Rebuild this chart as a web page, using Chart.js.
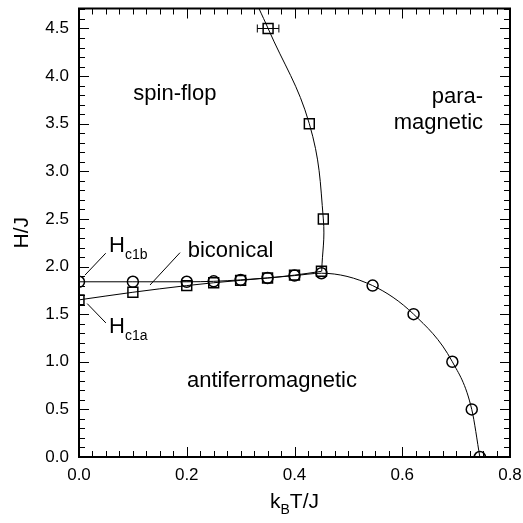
<!DOCTYPE html>
<html><head><meta charset="utf-8">
<script src="https://cdn.jsdelivr.net/npm/chart.js@4/dist/chart.umd.min.js"></script>
<style>html,body{margin:0;padding:0;background:#fff}#wrap{width:523px;height:523px;position:relative}</style>
</head><body><div id="wrap"><canvas id="c"></canvas></div>
<script>
// ---- data ----
const circleT = [0, 0.1, 0.2, 0.25, 0.3, 0.35, 0.4, 0.45, 0.545, 0.621, 0.693, 0.729, 0.744];
const circleH = [1.84, 1.84, 1.84, 1.845, 1.86, 1.88, 1.905, 1.93, 1.80, 1.50, 1.00, 0.50, 0.0];
const squareT = [0, 0.1, 0.2, 0.25, 0.3, 0.35, 0.4, 0.45, 0.4535, 0.4275, 0.351];
const squareH = [1.65, 1.73, 1.80, 1.83, 1.855, 1.88, 1.91, 1.95, 2.50, 3.50, 4.50];
const squareTErr = [0, 0, 0, 0, 0, 0, 0, 0, 0, 0, 0.02];
// spin-flop boundary curve (junction -> top edge)
const flopT = [0.4505, 0.4535, 0.4275, 0.351, 0.334];
const flopH = [1.95, 2.50, 3.50, 4.50, 4.71];
// lower (Hc1a) branch curve
const lowT = [0, 0.1, 0.2, 0.25, 0.3, 0.35, 0.4, 0.45];
const lowH = [1.65, 1.73, 1.80, 1.83, 1.855, 1.88, 1.91, 1.95];
const xTickLabels = ['0.0', '0.2', '0.4', '0.6', '0.8'];
const yTickLabels = ['0.0', '0.5', '1.0', '1.5', '2.0', '2.5', '3.0', '3.5', '4.0', '4.5'];
const regionLabels = ['spin-flop', 'para-', 'magnetic', 'biconical', 'antiferromagnetic'];

// ---- annotation layout (data coordinates) ----
const notes = [
  {text: regionLabels[0], t: 0.178, h: 3.75, align: 'center'},
  {text: regionLabels[1], t: 0.750, h: 3.72, align: 'right'},
  {text: regionLabels[2], t: 0.750, h: 3.44, align: 'right'},
  {text: regionLabels[3], t: 0.2018, h: 2.104, align: 'left'},
  {text: regionLabels[4], t: 0.2005, h: 0.732, align: 'left'}
];
const hLabels = [
  {main: 'H', sub: 'c1b', t: 0.0557, h: 2.149},
  {main: 'H', sub: 'c1a', t: 0.0557, h: 1.305}
];
const leaders = [
  [[0.0111, 1.91], [0.0496, 2.14]],
  [[0.0152, 1.611], [0.0499, 1.408]],
  [[0.1318, 1.806], [0.1875, 2.146]]
];

const pts = (xs, ys) => xs.map((v, i) => ({x: v, y: ys[i]}));
const FONT = '"Liberation Sans", Arial, Helvetica, sans-serif';
Chart.defaults.font.family = FONT;
Chart.defaults.color = '#000';

const decor = {
  id: 'decor',
  afterDatasetsDraw(chart) {
    const {ctx, chartArea: a, scales: {x, y}} = chart;
    ctx.save();
    ctx.strokeStyle = '#000';
    const seg = (x1, y1, x2, y2) => { ctx.beginPath(); ctx.moveTo(x1, y1); ctx.lineTo(x2, y2); ctx.stroke(); };
    // error bars
    ctx.lineWidth = 1;
    squareT.forEach((t, i) => {
      const e = squareTErr[i];
      if (!e) return;
      const py = y.getPixelForValue(squareH[i]);
      const p1 = x.getPixelForValue(t - e), p2 = x.getPixelForValue(t + e);
      seg(p1, py, p2, py);
      seg(p1, py - 4, p1, py + 4);
      seg(p2, py - 4, p2, py + 4);
    });
    // leader lines
    leaders.forEach(l => seg(x.getPixelForValue(l[0][0]), y.getPixelForValue(l[0][1]),
                             x.getPixelForValue(l[1][0]), y.getPixelForValue(l[1][1])));
    // ticks (inward, all four sides)
    ctx.lineWidth = 1;
    for (let i = 0; i <= 32; i++) {
      const v = i * 0.025;
      const px = Math.round(x.getPixelForValue(v)) + 0.5;
      const L = (i % 8 === 0) ? 10 : 6;
      seg(px, a.bottom, px, a.bottom - L);
      seg(px, a.top, px, a.top + L);
    }
    for (let i = 0; i <= 47; i++) {
      const v = i * 0.1;
      if (v > y.max) break;
      const py = Math.round(y.getPixelForValue(v)) + 0.5;
      const L = (i % 5 === 0) ? 10 : 6;
      seg(a.left, py, a.left + L, py);
      seg(a.right, py, a.right - L, py);
    }
    // frame
    ctx.lineWidth = 2;
    ctx.strokeRect(a.left, a.top, a.right - a.left, a.bottom - a.top);
    // region labels
    ctx.fillStyle = '#000';
    ctx.textBaseline = 'alphabetic';
    ctx.font = '22px ' + FONT;
    notes.forEach(n => {
      ctx.textAlign = n.align;
      ctx.fillText(n.text, x.getPixelForValue(n.t), y.getPixelForValue(n.h));
    });
    ctx.textAlign = 'left';
    hLabels.forEach(n => {
      const px = x.getPixelForValue(n.t), py = y.getPixelForValue(n.h);
      ctx.font = '22px ' + FONT;
      ctx.fillText(n.main, px, py);
      const w = ctx.measureText(n.main).width;
      ctx.font = '14px ' + FONT;
      ctx.fillText(n.sub, px + w, py + 7);
    });
    // x axis title k_B T/J
    const cx = (a.left + a.right) / 2, by = 508;
    ctx.font = '21px ' + FONT; const wk = ctx.measureText('k').width; const wt = ctx.measureText('T/J').width;
    ctx.font = '14px ' + FONT; const wb = ctx.measureText('B').width;
    let sx = cx - (wk + wb + wt) / 2;
    ctx.font = '21px ' + FONT; ctx.fillText('k', sx, by);
    ctx.font = '14px ' + FONT; ctx.fillText('B', sx + wk, by + 6);
    ctx.font = '21px ' + FONT; ctx.fillText('T/J', sx + wk + wb, by);
    // y axis title
    ctx.save();
    ctx.translate(28, (a.top + a.bottom) / 2);
    ctx.rotate(-Math.PI / 2);
    ctx.textAlign = 'center';
    ctx.font = '21px ' + FONT;
    ctx.fillText('H/J', 0, 0);
    ctx.restore();
    ctx.restore();
  }
};

new Chart(document.getElementById('c'), {
  type: 'scatter',
  data: {
    datasets: [
      {data: pts(circleT, circleH), showLine: true, cubicInterpolationMode: 'monotone',
       borderColor: '#000', borderWidth: 1, pointStyle: 'circle', pointRadius: 5.5,
       pointBorderWidth: 1.5, pointBackgroundColor: 'rgba(0,0,0,0)', pointBorderColor: '#000'},
      {data: pts(lowT, lowH), showLine: true, cubicInterpolationMode: 'monotone',
       borderColor: '#000', borderWidth: 1, pointRadius: 0},
      {data: pts(flopT, flopH), showLine: true, tension: 0.4,
       borderColor: '#000', borderWidth: 1, pointRadius: 0},
      {data: pts(squareT, squareH), showLine: false, pointStyle: 'rect', pointRadius: 7,
       pointBorderWidth: 1.5, pointBackgroundColor: 'rgba(0,0,0,0)', pointBorderColor: '#000'}
    ]
  },
  options: {
    responsive: true, maintainAspectRatio: false, animation: false, devicePixelRatio: 1,
    layout: {padding: {top: 5, right: 13, left: 0, bottom: 0}},
    plugins: {legend: {display: false}, tooltip: {enabled: false}},
    scales: {
      x: {type: 'linear', min: 0, max: 0.8,
          grid: {display: false, drawTicks: false}, border: {display: false},
          ticks: {stepSize: 0.2, padding: 8, font: {size: 17}, maxRotation: 0,
                  callback: (v) => xTickLabels[Math.round(v / 0.2)] ?? ''},
          afterFit: s => { s.height = 66; s.paddingLeft = 0; s.paddingRight = 0; }},
      y: {type: 'linear', min: 0, max: 4.71,
          grid: {display: false, drawTicks: false}, border: {display: false},
          ticks: {stepSize: 0.5, padding: 10, includeBounds: false, font: {size: 17},
                  callback: (v) => yTickLabels[Math.round(v / 0.5)] ?? ''},
          afterFit: s => { s.width = 79; s.paddingTop = 0; s.paddingBottom = 0; }}
    }
  },
  plugins: [decor]
});
</script></body></html>
